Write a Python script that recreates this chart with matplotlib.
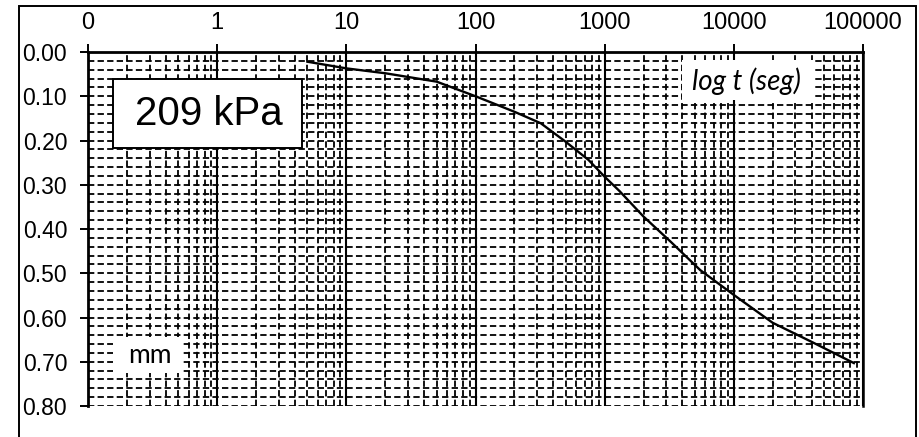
import matplotlib
matplotlib.use('Agg')
import matplotlib.pyplot as plt
from matplotlib.patches import Rectangle
from matplotlib.ticker import FixedLocator, MultipleLocator, FuncFormatter, NullFormatter

# consolidation reading for the 209 kPa load step
tiempo_seg = [5, 10, 20, 50, 100, 200, 320, 500, 750, 1000, 1300,
              2000, 3250, 5500, 10000, 20000, 40000, 85000]
lectura_mm = [0.022, 0.037, 0.048, 0.067, 0.100, 0.135, 0.161, 0.203, 0.244, 0.282, 0.314,
              0.372, 0.429, 0.493, 0.549, 0.612, 0.655, 0.703]
carga = "209 kPa"
decadas = [0.1, 1, 10, 100, 1000, 10000, 100000]

plt.rcParams['font.family'] = ['Liberation Sans', 'DejaVu Sans']

fig = plt.figure(figsize=(9.19, 4.37), dpi=100)
ax = fig.add_axes([88 / 919, 31 / 437, 775 / 919, 354 / 437])

# outer chart frame
fig.patches.append(Rectangle((19 / 919, -0.05), 897 / 919, 1.05 - 6 / 437,
                             transform=fig.transFigure, fill=False,
                             edgecolor='black', linewidth=1.4, zorder=0))

ax.plot(tiempo_seg, lectura_mm, color='black', linewidth=1.7, zorder=4)

ax.set_xscale('log')
ax.set_xlim(decadas[0], decadas[-1])
ax.set_ylim(0.8, 0.0)

# minor lines at 2..9 of every decade inside the range
menores = [d * k for d in decadas[:-1] for k in range(2, 10)]
ax.xaxis.set_major_locator(FixedLocator(decadas))
ax.xaxis.set_minor_locator(FixedLocator(menores))
ax.xaxis.set_major_formatter(FuncFormatter(lambda v, p: '%.0f' % v))
ax.xaxis.set_minor_formatter(NullFormatter())
ax.yaxis.set_major_locator(MultipleLocator(0.1))
ax.yaxis.set_minor_locator(MultipleLocator(0.02))
ax.yaxis.set_major_formatter(FuncFormatter(lambda v, p: '%.2f' % v))

ax.xaxis.tick_top()
ax.tick_params(axis='x', which='major', direction='out', length=6, width=1.4,
               labelsize=17, pad=7)
ax.tick_params(axis='y', which='major', direction='out', length=6, width=1.4,
               labelsize=16.5, pad=9)
ax.tick_params(which='minor', length=0)

dash = (0, (3.5, 1.8))
ax.grid(True, axis='x', which='major', color='black', linewidth=1.5, linestyle='-')
ax.grid(True, axis='x', which='minor', color='black', linewidth=1.3, linestyle=dash)
ax.grid(True, axis='y', which='both', color='black', linewidth=1.3, linestyle=dash)
ax.set_axisbelow(True)

ax.spines['bottom'].set_visible(False)
ax.spines['left'].set_linewidth(2.0)
ax.spines['top'].set_linewidth(2.0)
ax.spines['right'].set_linewidth(1.8)

# load label
ax.add_patch(Rectangle((0.0323, 0.728), 0.2439, 0.195, transform=ax.transAxes,
                       facecolor='white', edgecolor='black', linewidth=1.4, zorder=5))
ax.text(0.1555, 0.826, carga, transform=ax.transAxes, fontsize=29,
        ha='center', va='center', zorder=6)

# axis captions
ax.add_patch(Rectangle((0.766, 0.864), 0.169, 0.113, transform=ax.transAxes,
                       facecolor='white', edgecolor='none', zorder=5))
ax.text(0.849, 0.918, 'log t (seg)', transform=ax.transAxes, fontsize=20,
        family='Lato', style='italic', ha='center', va='center', zorder=6)

ax.add_patch(Rectangle((0.0323, 0.0932), 0.089, 0.1017, transform=ax.transAxes,
                       facecolor='white', edgecolor='none', zorder=5))
ax.text(0.08, 0.142, 'mm', transform=ax.transAxes, fontsize=19,
        family='Lato', ha='center', va='center', zorder=6)

fig.savefig('out.png', dpi=100)
